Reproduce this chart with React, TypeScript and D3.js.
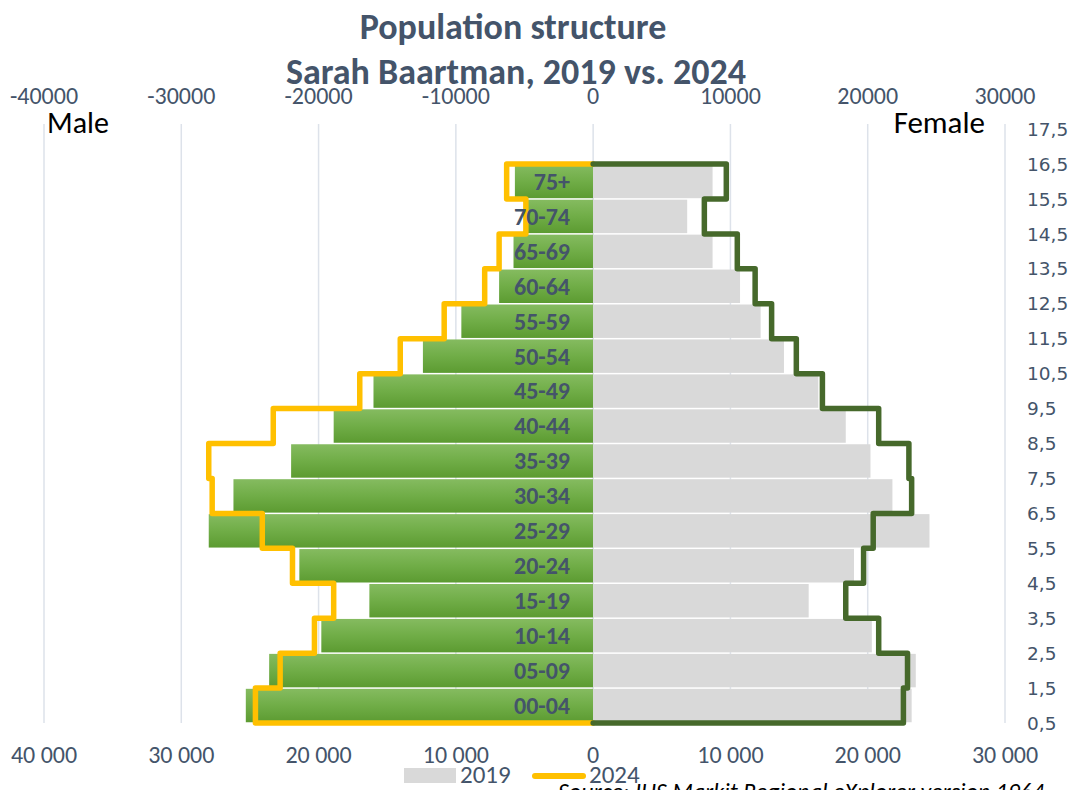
import React from 'react';
import * as d3 from 'd3';

// age groups, bottom to top
const ageGroups = ['00-04', '05-09', '10-14', '15-19', '20-24', '25-29', '30-34', '35-39',
  '40-44', '45-49', '50-54', '55-59', '60-64', '65-69', '70-74', '75+'];

const male2019 = [25300, 23600, 19800, 16300, 21400, 28000, 26200, 22000,
  18900, 16000, 12400, 9600, 6850, 5800, 4800, 5700];
const female2019 = [23200, 23500, 20300, 15700, 19000, 24500, 21800, 20200,
  18400, 16400, 13900, 12200, 10700, 8700, 6850, 8700];

const male2024 = [24600, 22800, 20300, 18900, 21900, 24100, 27750, 28000,
  23300, 17000, 14050, 10850, 7900, 6850, 4900, 6300];
const female2024 = [22600, 22900, 20800, 18400, 19700, 20400, 23200, 23000,
  20800, 16700, 14800, 13000, 11800, 10500, 8100, 9700];

const xTicks = [-40000, -30000, -20000, -10000, 0, 10000, 20000, 30000];
const yTicks = d3.range(0.5, 18, 1);

const W = 1076;
const H = 790;
const NARROW = "Carlito, 'Liberation Sans Narrow', 'Arial Narrow', 'Liberation Sans', sans-serif";
const TEXT = '#44546a';

const x = d3.scaleLinear().domain([-40000, 30000]).range([44, 1005]);
const y = d3.scaleLinear().domain([0.5, 16.5]).range([723, 164]);

// step outline: vertical edge per age group, joined at group boundaries
const stepPoints = (vals: number[], sign: number): [number, number][] => {
  const pts: [number, number][] = [[0, 0.5]];
  vals.forEach((v, i) => {
    pts.push([sign * v, i + 0.5]);
    pts.push([sign * v, i + 1.5]);
  });
  pts.push([0, vals.length + 0.5]);
  return pts;
};

const line = d3.line<[number, number]>().x(d => x(d[0])).y(d => y(d[1]));

const spaced = (v: number) => d3.format(',')(Math.abs(v)).replace(/,/g, ' ');

export default function App() {
  const band = y(0.5) - y(1.5);
  const gap = 1.5;

  return (
    <svg width={W} height={H} style={{ position: 'absolute', left: 0, top: 0, background: '#fff' }}>
      <defs>
        <linearGradient id="maleFill" x1="0" y1="0" x2="0" y2="1">
          <stop offset="0" stopColor="#85bb60" />
          <stop offset="0.5" stopColor="#70ad47" />
          <stop offset="1" stopColor="#5c9b31" />
        </linearGradient>
      </defs>

      {/* title */}
      <text x={513} y={39} textAnchor="middle" fontFamily={NARROW} fontWeight="bold" fontSize={36} fill={TEXT}>
        Population structure
      </text>
      <text x={516} y={84} textAnchor="middle" fontFamily={NARROW} fontWeight="bold" fontSize={36} fill={TEXT}>
        Sarah Baartman, 2019 vs. 2024
      </text>

      {/* gridlines */}
      {xTicks.map(t => (
        <line key={t} x1={x(t)} x2={x(t)} y1={124} y2={723} stroke="#dde2ea" strokeWidth={1.5} />
      ))}

      {/* top axis */}
      {xTicks.map(t => (
        <text key={t} x={x(t)} y={104} textAnchor="middle" fontFamily={NARROW} fontSize={24} fill={TEXT}>
          {t}
        </text>
      ))}

      {/* bottom axis */}
      {xTicks.map(t => (
        <text key={t} x={x(t)} y={763} textAnchor="middle" fontFamily={NARROW} fontSize={24} fill={TEXT}>
          {spaced(t)}
        </text>
      ))}

      {/* right axis */}
      {yTicks.map(t => (
        <text key={t} x={1027} y={y(t)} dy="0.36em" fontFamily="'DejaVu Sans', Verdana, sans-serif" fontSize={18.5} fill={TEXT}>
          {d3.format('.1f')(t).replace('.', ',')}
        </text>
      ))}

      <text x={47} y={133} fontFamily={NARROW} fontSize={30} fill="#000">Male</text>
      <text x={985} y={133} textAnchor="end" fontFamily={NARROW} fontSize={31} fill="#000">Female</text>

      {/* 2019 bars */}
      {ageGroups.map((g, i) => (
        <g key={g}>
          <rect x={x(-male2019[i])} y={y(i + 1.5) + gap / 2} width={x(0) - x(-male2019[i])} height={band - gap}
            fill="url(#maleFill)" />
          <rect x={x(0)} y={y(i + 1.5) + gap / 2} width={x(female2019[i]) - x(0)} height={band - gap}
            fill="#d9d9d9" />
        </g>
      ))}

      {/* 2024 outlines */}
      <path d={line(stepPoints(male2024, -1)) || ''} fill="none" stroke="#ffc000" strokeWidth={5.5}
        strokeLinejoin="round" strokeLinecap="round" />
      <path d={line(stepPoints(female2024, 1)) || ''} fill="none" stroke="#46692b" strokeWidth={5.5}
        strokeLinejoin="round" strokeLinecap="round" />

      {/* category labels */}
      {ageGroups.map((g, i) => (
        <text key={g} x={570} y={y(i + 1)} dy="0.35em" textAnchor="end" fontFamily={NARROW} fontWeight="bold"
          fontSize={24} fill={TEXT}>
          {g}
        </text>
      ))}

      {/* legend */}
      <rect x={404} y={768} width={52} height={15} fill="#d9d9d9" />
      <text x={460} y={783} fontFamily={NARROW} fontSize={25} fill={TEXT}>2019</text>
      <line x1={535} x2={583} y1={776} y2={776} stroke="#ffc000" strokeWidth={6} strokeLinecap="round" />
      <text x={589} y={783} fontFamily={NARROW} fontSize={25} fill={TEXT}>2024</text>

      <text x={558} y={800} fontFamily={NARROW} fontStyle="italic" fontSize={24} fill="#000">
        Source: IHS Markit Regional eXplorer version 1964
      </text>
    </svg>
  );
}
